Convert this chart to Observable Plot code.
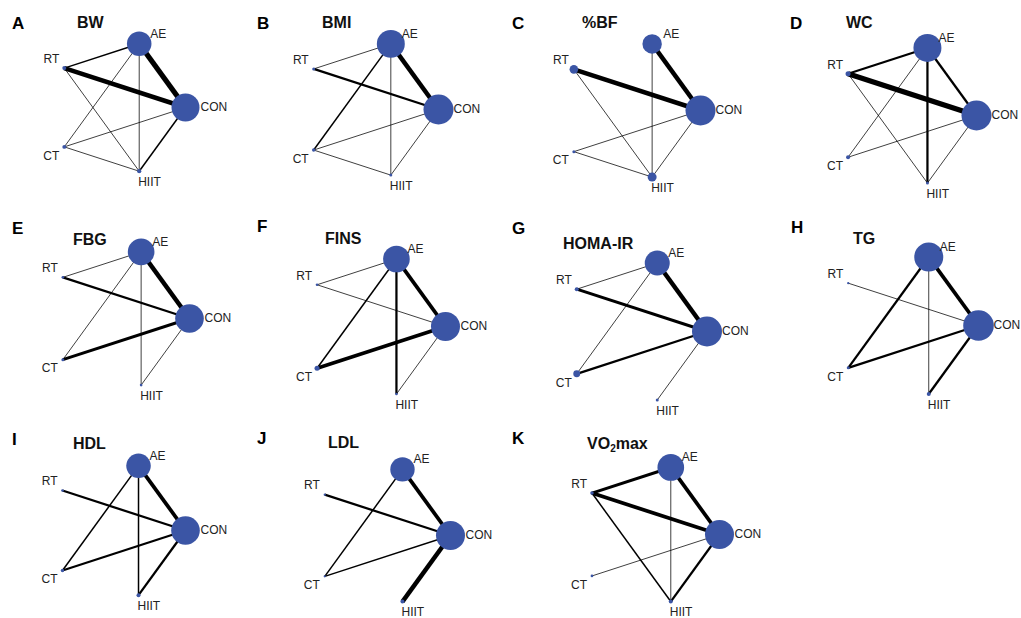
<!DOCTYPE html>
<html><head><meta charset="utf-8">
<script src="https://cdn.jsdelivr.net/npm/d3@7"></script>
<script src="https://cdn.jsdelivr.net/npm/@observablehq/plot@0.6"></script>
<style>
body{margin:0;background:#fff;font-family:Arial,"Liberation Sans",sans-serif;}
#fig{position:relative;width:1021px;height:618px;overflow:hidden;background:#fff;}
.panel{position:absolute;width:255px;height:205px;}
.panel svg{position:absolute;left:0;top:0;}
.letter{position:absolute;font-weight:bold;font-size:17px;line-height:1;color:#000;white-space:nowrap;}
.title{position:absolute;font-weight:bold;font-size:16px;line-height:1;color:#111;white-space:nowrap;}
.title sub{font-size:10px;line-height:0;vertical-align:-3px;}
</style></head><body><div id="fig"></div>
<script>
// ---- data ----
const treatments = ["CON","AE","RT","CT","HIIT"];
const panelLetters = ["A","B","C","D","E","F","G","H","I","J","K"];
const outcomes = ["BW","BMI","%BF","WC","FBG","FINS","HOMA-IR","TG","HDL","LDL","VO2max"];

// participants per treatment, order: CON, AE, RT, CT, HIIT
const nBW     = [870, 670, 18, 17, 20];
const nBMI    = [1000, 870, 10, 13, 10];
const nBF     = [1000, 420, 82, 10, 90];
const nWC     = [1000, 870, 28, 18, 10];
const nFBG    = [910, 790, 8, 10, 8];
const nFINS   = [935, 790, 8, 28, 8];
const nHOMA   = [1000, 695, 18, 54, 10];
const nTG     = [1040, 935, 6, 10, 18];
const nHDL    = [910, 670, 8, 13, 18];
const nLDL    = [935, 660, 6, 6, 18];
const nVO2    = [935, 790, 14, 8, 18];

// direct comparisons: [treatment, treatment, number of studies]
const sBW   = [["AE","CON",7],["RT","CON",6],["RT","AE",2],["CON","HIIT",2],["AE","CT",1],["AE","HIIT",1],["RT","HIIT",1],["CT","CON",1],["CT","HIIT",1]];
const sBMI  = [["AE","CON",6],["RT","CON",3],["AE","CT",2],["RT","AE",1],["AE","HIIT",1],["CT","CON",1],["CT","HIIT",1],["CON","HIIT",1]];
const sBF   = [["AE","CON",6],["RT","CON",6],["AE","HIIT",1],["RT","HIIT",1],["CT","CON",1],["CT","HIIT",1],["CON","HIIT",1]];
const sWC   = [["RT","CON",7],["RT","AE",3],["AE","CON",3],["AE","HIIT",3],["AE","CT",1],["RT","HIIT",1],["CT","CON",1],["CON","HIIT",1]];
const sFBG  = [["AE","CON",6],["RT","CON",3],["CT","CON",4],["RT","AE",1],["AE","CT",1],["AE","HIIT",1],["CON","HIIT",1]];
const sFINS = [["AE","CON",5],["CT","CON",5],["AE","HIIT",3],["AE","CT",2],["RT","AE",1],["RT","CON",1],["CON","HIIT",1]];
const sHOMA = [["AE","CON",6],["RT","CON",4],["CT","CON",3],["RT","AE",1],["AE","CT",1],["CON","HIIT",1]];
const sTG   = [["AE","CON",5],["AE","CT",3],["CT","CON",3],["CON","HIIT",3],["RT","CON",1],["AE","HIIT",1]];
const sHDL  = [["AE","CON",5],["RT","CON",3],["CT","CON",3],["CON","HIIT",3],["AE","CT",2],["AE","HIIT",2]];
const sLDL  = [["AE","CON",5],["CON","HIIT",6],["RT","CON",3],["CT","CON",2],["AE","CT",2]];
const sVO2  = [["AE","CON",5],["RT","CON",5],["RT","AE",4],["CON","HIIT",3],["RT","HIIT",2],["AE","HIIT",1],["CT","CON",1]];

const participants = [nBW,nBMI,nBF,nWC,nFBG,nFINS,nHOMA,nTG,nHDL,nLDL,nVO2];
const studies = [sBW,sBMI,sBF,sWC,sFBG,sFINS,sHOMA,sTG,sHDL,sLDL,sVO2];

// ---- layout (presentation only) ----
const layout = [
  {left:0,   top:0,   cx:118,   cy:107, R:67,   letter:[12,15], title:[77,15]},
  {left:255, top:0,   cx:114,   cy:109, R:69,   letter:[2,15],  title:[67,15]},
  {left:510, top:0,   cx:120,   cy:110, R:70,   letter:[2,15],  title:[72,15]},
  {left:765, top:0,   cx:140,   cy:115, R:71,   letter:[25,15], title:[81,15]},
  {left:0,   top:205, cx:119,   cy:113, R:70,   letter:[12,15], title:[73,27]},
  {left:255, top:205, cx:119,   cy:121, R:71,   letter:[2,13],  title:[70,26]},
  {left:510, top:205, cx:124.5, cy:126, R:72,   letter:[2,15],  title:[53,31]},
  {left:765, top:205, cx:141,   cy:120, R:72,   letter:[26,14], title:[88,26]},
  {left:0,   top:410, cx:117,   cy:120, R:68,   letter:[12,21], title:[73,26]},
  {left:255, top:410, cx:125.5, cy:125, R:69.5, letter:[2,20],  title:[73,25]},
  {left:510, top:410, cx:138.5, cy:124, R:70.5, letter:[2,20],  title:[77,26]}
];
const labelStyle = {
  CON:  {dx:15, dy:0,   anchor:"start"},
  AE:   {dx:11, dy:-10, anchor:"start"},
  RT:   {dx:-5, dy:-9,  anchor:"end"},
  CT:   {dx:-5, dy:9,   anchor:"end"},
  HIIT: {dx:-1, dy:11,  anchor:"start"}
};
// pentagon positions of the treatments on the unit circle
const px = t => Math.cos(treatments.indexOf(t) * 2 * Math.PI / 5);
const py = t => Math.sin(treatments.indexOf(t) * 2 * Math.PI / 5);

const fig = document.getElementById("fig");
outcomes.forEach((name, k) => {
  const L = layout[k];
  const nodes = treatments.map((t, i) => ({t, n: participants[k][i]}));
  const edges = studies[k].map(([a, b, s]) => ({a, b, s}));
  const div = document.createElement("div");
  div.className = "panel";
  div.style.left = L.left + "px";
  div.style.top = L.top + "px";
  const chart = Plot.plot({
    width: 255, height: 205, margin: 0,
    x: {domain: [-1, 1], range: [L.cx - L.R, L.cx + L.R], axis: null},
    y: {domain: [-1, 1], range: [L.cy + L.R, L.cy - L.R], axis: null},
    r: {type: "sqrt", domain: [0, 1000], range: [0, 15]},
    style: {overflow: "visible", background: "transparent", fontFamily: "Arial, 'Liberation Sans', sans-serif"},
    marks: [
      Plot.link(edges, {
        x1: d => px(d.a), y1: d => py(d.a), x2: d => px(d.b), y2: d => py(d.b),
        stroke: "#000", strokeWidth: d => 0.75 * d.s, strokeLinecap: "butt"
      }),
      Plot.dot(nodes, {x: d => px(d.t), y: d => py(d.t), r: "n", fill: "#3b55a5", stroke: "none"}),
      ...treatments.map(t => Plot.text(nodes.filter(d => d.t === t), {
        x: d => px(d.t), y: d => py(d.t), text: "t",
        dx: labelStyle[t].dx, dy: labelStyle[t].dy, textAnchor: labelStyle[t].anchor,
        fontSize: 12, fill: "#222"
      }))
    ]
  });
  div.appendChild(chart);
  const letter = document.createElement("div");
  letter.className = "letter";
  letter.textContent = panelLetters[k];
  letter.style.left = L.letter[0] + "px";
  letter.style.top = L.letter[1] + "px";
  div.appendChild(letter);
  const title = document.createElement("div");
  title.className = "title";
  title.innerHTML = name.replace("VO2", "VO<sub>2</sub>");
  title.style.left = L.title[0] + "px";
  title.style.top = L.title[1] + "px";
  div.appendChild(title);
  fig.appendChild(div);
});
</script>
</body></html>
